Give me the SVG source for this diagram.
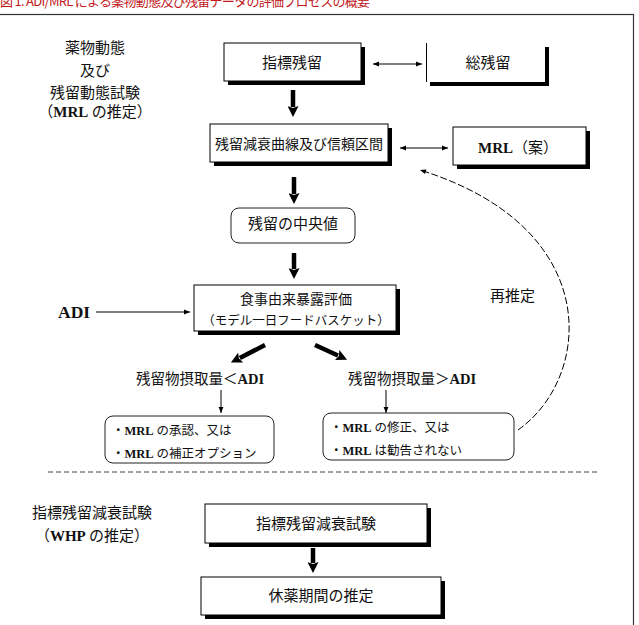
<svg xmlns="http://www.w3.org/2000/svg" width="639" height="625" viewBox="0 0 639 625">
<style>
.jp{font-family:"Noto Sans CJK JP","Noto Sans",sans-serif;fill:#111}
.lat{font-family:"Liberation Serif",serif;font-weight:bold}
.box{fill:#fff;stroke:#000;stroke-width:1}
.sh{fill:#000}
.rbox{fill:#fff;stroke:#222;stroke-width:1}
.thin{stroke:#000;stroke-width:1;fill:none}
.thick{stroke:#000;stroke-width:4.5;fill:none}
.dash{stroke:#000;stroke-width:1;fill:none;stroke-dasharray:7 2.5}
</style>
<defs>
<marker id="ah" viewBox="0 0 10 10" refX="10" refY="5" markerWidth="7" markerHeight="6" markerUnits="userSpaceOnUse" orient="auto-start-reverse"><path d="M0,1 L10,5 L0,9 z" fill="#000"/></marker>
<marker id="thk" viewBox="0 0 11 11" refX="1" refY="5.5" markerWidth="11" markerHeight="11" markerUnits="userSpaceOnUse" orient="auto"><path d="M0,0 L11,5.5 L0,11 L2,5.5 z" fill="#000"/></marker>
</defs>
<rect x="-2" y="14.5" width="635.5" height="640" fill="none" stroke="#333" stroke-width="1.2"/>
<text x="0" y="6" class="jp" font-size="13" style="fill:#c0181c" textLength="370">図 1. ADI/MRL による薬物動態及び残留データの評価プロセスの概要</text>

<g id="label-top" class="jp" font-size="15" text-anchor="middle">
<text x="95" y="53">薬物動態</text>
<text x="95" y="76">及び</text>
<text x="95" y="98">残留動態試験</text>
<text x="95" y="117">（<tspan class="lat">MRL</tspan> の推定）</text>
</g>

<g id="connectors">
<line class="thin" x1="373" y1="64" x2="422" y2="64" marker-start="url(#ah)" marker-end="url(#ah)"/>
<line class="thin" x1="400" y1="148" x2="448" y2="148" marker-start="url(#ah)" marker-end="url(#ah)"/>
<line class="thick" x1="293" y1="90" x2="293" y2="107" marker-end="url(#thk)"/>
<line class="thick" x1="294" y1="177" x2="294" y2="194" marker-end="url(#thk)"/>
<line class="thick" x1="294" y1="253" x2="294" y2="269" marker-end="url(#thk)"/>
<line class="thin" x1="96" y1="312" x2="190" y2="312" marker-end="url(#ah)"/>
<line class="thick" x1="265" y1="345" x2="239.8" y2="358" marker-end="url(#thk)"/>
<line class="thick" x1="315" y1="345" x2="338" y2="355.5" marker-end="url(#thk)"/>
<line class="thin" x1="221" y1="390" x2="221" y2="413" marker-end="url(#ah)"/>
<line class="thin" x1="386" y1="390" x2="386" y2="413" marker-end="url(#ah)"/>
<path class="dash" d="M518,430 C592,378 606,228 420,170" marker-end="url(#ah)"/>
<line x1="48" y1="472" x2="600" y2="472" stroke="#444" stroke-width="1" stroke-dasharray="5 3"/>
<line class="thick" x1="313" y1="548" x2="313" y2="563" marker-end="url(#thk)"/>
</g>

<g id="n-shihyo">
<rect class="sh" x="228" y="47" width="137" height="38"/>
<rect class="box" x="224" y="43" width="137" height="38"/>
<text class="jp" x="292" y="67.5" font-size="15" text-anchor="middle">指標残留</text>
</g>
<g id="n-sozanryu">
<rect class="sh" x="430" y="47" width="119" height="39"/>
<rect x="426" y="43" width="119" height="39" fill="#fff"/>
<line x1="426.5" y1="43" x2="426.5" y2="82" stroke="#000"/>
<text class="jp" x="488" y="67.5" font-size="15" text-anchor="middle">総残留</text>
</g>
<g id="n-gensui">
<rect class="sh" x="214" y="128" width="178" height="38"/>
<rect class="box" x="210" y="124" width="178" height="38"/>
<text class="jp" x="299" y="149" font-size="14" text-anchor="middle">残留減衰曲線及び信頼区間</text>
</g>
<g id="n-mrl">
<rect class="sh" x="457" y="131" width="133" height="38"/>
<rect class="box" x="453" y="127" width="133" height="38"/>
<text class="jp" x="518" y="153" font-size="15" text-anchor="middle"><tspan class="lat">MRL</tspan>（案）</text>
</g>
<g id="n-chuo">
<rect class="rbox" x="231" y="208" width="124" height="35" rx="8"/>
<text class="jp" x="293" y="228.5" font-size="15" text-anchor="middle">残留の中央値</text>
</g>
<g id="n-bakuro">
<rect class="sh" x="198" y="289" width="202" height="46"/>
<rect class="box" x="194" y="285" width="202" height="46"/>
<text class="jp" x="296" y="303.5" font-size="14" text-anchor="middle">食事由来暴露評価</text>
<text class="jp" x="296" y="325" font-size="12.5" text-anchor="middle">（モデル一日フードバスケット）</text>
</g>
<g id="n-adi">
<text class="lat" x="58" y="318" font-size="17.5" fill="#111">ADI</text>
</g>
<g id="n-lt">
<text class="jp" x="200" y="384" font-size="14.5" text-anchor="middle">残留物摂取量＜<tspan class="lat">ADI</tspan></text>
</g>
<g id="n-gt">
<text class="jp" x="412" y="384" font-size="14.5" text-anchor="middle">残留物摂取量＞<tspan class="lat">ADI</tspan></text>
</g>
<g id="n-ok">
<rect class="rbox" x="105" y="416" width="169" height="47" rx="8"/>
<text class="jp" x="112" y="435" font-size="12.5">・<tspan class="lat">MRL</tspan> の承認、又は</text>
<text class="jp" x="112" y="458" font-size="12.5">・<tspan class="lat">MRL</tspan> の補正オプション</text>
</g>
<g id="n-ng">
<rect class="rbox" x="323" y="413" width="191" height="47" rx="8"/>
<text class="jp" x="330" y="432" font-size="12.5">・<tspan class="lat">MRL</tspan> の修正、又は</text>
<text class="jp" x="330" y="455" font-size="12.5">・<tspan class="lat">MRL</tspan> は勧告されない</text>
</g>
<g id="n-resuitei">
<text class="jp" x="490" y="300.5" font-size="15">再推定</text>
</g>
<g id="label-bottom" class="jp" font-size="15" text-anchor="middle">
<text x="92" y="518">指標残留減衰試験</text>
<text x="92" y="541">（<tspan class="lat">WHP</tspan> の推定）</text>
</g>
<g id="n-whp">
<rect class="sh" x="209" y="508" width="222" height="39"/>
<rect class="box" x="205" y="504" width="222" height="39"/>
<text class="jp" x="316" y="528.5" font-size="15" text-anchor="middle">指標残留減衰試験</text>
</g>
<g id="n-kyuyaku">
<rect class="sh" x="205" y="581" width="240" height="38"/>
<rect class="box" x="201" y="577" width="240" height="38"/>
<text class="jp" x="321" y="601" font-size="15" text-anchor="middle">休薬期間の推定</text>
</g>
</svg>
